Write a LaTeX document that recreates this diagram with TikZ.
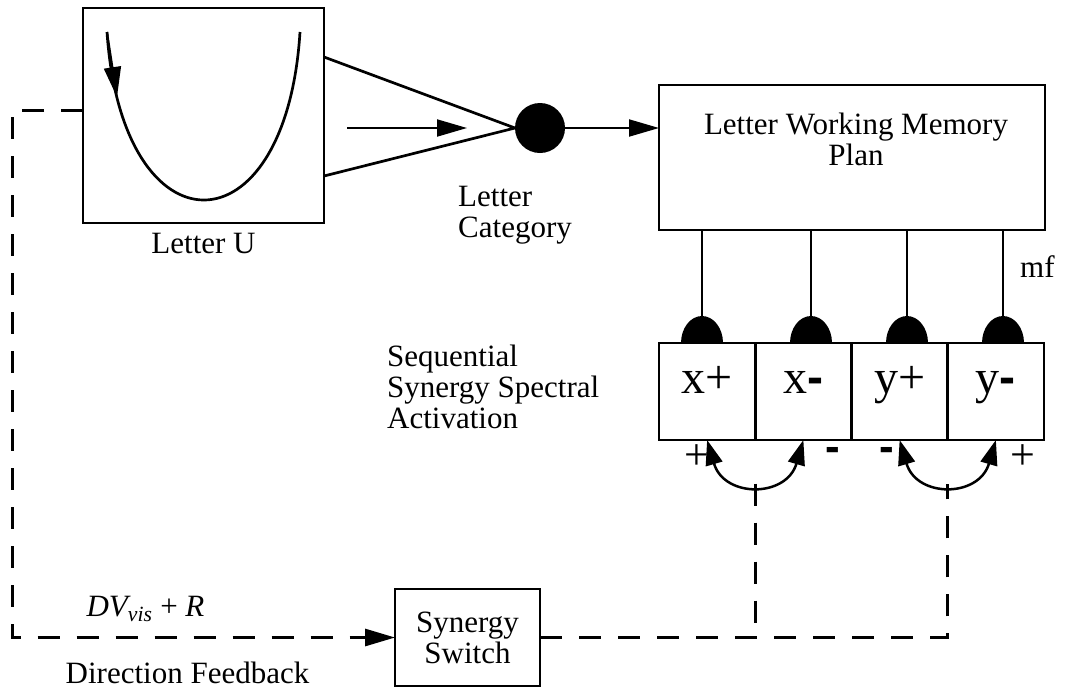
\documentclass[tikz,border=0pt]{standalone}
\usepackage{fontspec}
\setmainfont{Liberation Serif}
\newfontfamily\dashfont{Liberation Sans}
\usetikzlibrary{calc}
\usetikzlibrary{positioning}
\usetikzlibrary{arrows.meta}

\newcommand{\minus}{{\dashfont\bfseries -}}

\tikzset{
  box/.style={draw, line width=2.7pt, outer sep=0pt},
  cell/.style={box, minimum width=96.25pt, minimum height=97pt, text height=23pt, text depth=20pt, font=\fontsize{48}{48}\selectfont},
  sign/.style={font=\fontsize{44}{44}\selectfont},
  tip/.style={-{Triangle[length=30pt,width=17pt]}},
  twotip/.style={{Triangle[length=25pt,width=17pt]}-{Triangle[length=25pt,width=17pt]}},
  feedback/.style={line width=3pt, dash pattern=on 22pt off 17pt},
}

\begin{document}
\begin{tikzpicture}[x=1pt, y=-1pt, every node/.style={inner sep=0pt, font=\fontsize{31}{31}\selectfont}]
  \fill [white] (0,0) rectangle (1065,689);
  \useasboundingbox (0,0) rectangle (1065,689);

  \node [box, minimum width=241pt, minimum height=215pt] (letteru) at (203.5,115.5) {};
  \node (letterulabel) at (203.5,243) {Letter U};
  \draw [line width=2.7pt] (107,32) .. controls (122,256) and (286,256) .. (300,32);
  \draw [line width=2pt, tip] (107,32) -- (117,97);

  \node [circle, fill, minimum size=50pt, outer sep=0pt] (category) at (540,128) {};
  \draw [line width=2.7pt] ($(letteru.north east)+(0,49)$) -- (category.west) -- ($(letteru.south east)+(0,-47)$);
  \coordinate (shapein) at (347,128);
  \coordinate (shapeout) at (467,128);
  \draw [line width=2pt, tip] (shapein) -- (shapeout);
  \node [anchor=west, align=left] (categorylabel) at (458,215.5) {Letter\\Category};

  \node [box, minimum width=386pt, minimum height=145pt] (memory) at (852,157.5) {};
  \node [align=center] (memorylabel) at (856,139.5) {Letter Working Memory\\Plan};
  \draw [line width=2pt, tip] (category.east) -- (category.east -| memory.west);
  \node [anchor=west] (mf) at (1020,267) {mf};

  \node [cell] (xp) at (707.125,391.5) {x+};
  \node [cell, right=0pt of xp] (xm) {x\minus};
  \node [cell, right=0pt of xm] (yp) {y+};
  \node [cell, right=0pt of yp] (ym) {y\minus};
  \node [anchor=west, align=left] (spectral) at (387,386.5) {Sequential\\Synergy Spectral\\Activation};

  \foreach \x [count=\i] in {702,811,907,1003} {
    \coordinate (gate\i) at (\x,343);
    \draw [line width=2pt] (gate\i |- memory.south) -- (gate\i);
    \fill (gate\i) ++(-21,0) arc [start angle=180, end angle=0, x radius=21pt, y radius=27pt] -- cycle;
  }

  \draw [line width=2.5pt, twotip] (xp.south) .. controls +(17,58) and +(-17,58) .. (xm.south) coordinate [pos=0.5] (xloop);
  \draw [line width=2.5pt, twotip] (yp.south) .. controls +(17,58) and +(-17,58) .. (ym.south) coordinate [pos=0.5] (yloop);
  \node [sign] (xpsign) at (697,457) {+};
  \node [sign] (xmsign) at (833,454) {\minus};
  \node [sign] (ypsign) at (887,454) {\minus};
  \node [sign] (ymsign) at (1023,457) {+};

  \node [box, minimum width=145pt, minimum height=97pt, align=center] (switch) at (467.5,637.5) {Synergy\\Switch};
  \coordinate (feedbacktop) at (12,110);
  \draw [feedback, tip] (letteru.west |- feedbacktop) -- (feedbacktop) |- (switch.west);
  \draw [feedback] (switch.east) -| (yloop);
  \draw [feedback] (xloop) -- (xloop |- switch.east);
  \node (dvlabel) at (145.5,609) {\textit{DV\textsubscript{vis}} + \textit{R}};
  \node (directionlabel) at (187.5,673) {Direction Feedback};
\end{tikzpicture}
\end{document}
